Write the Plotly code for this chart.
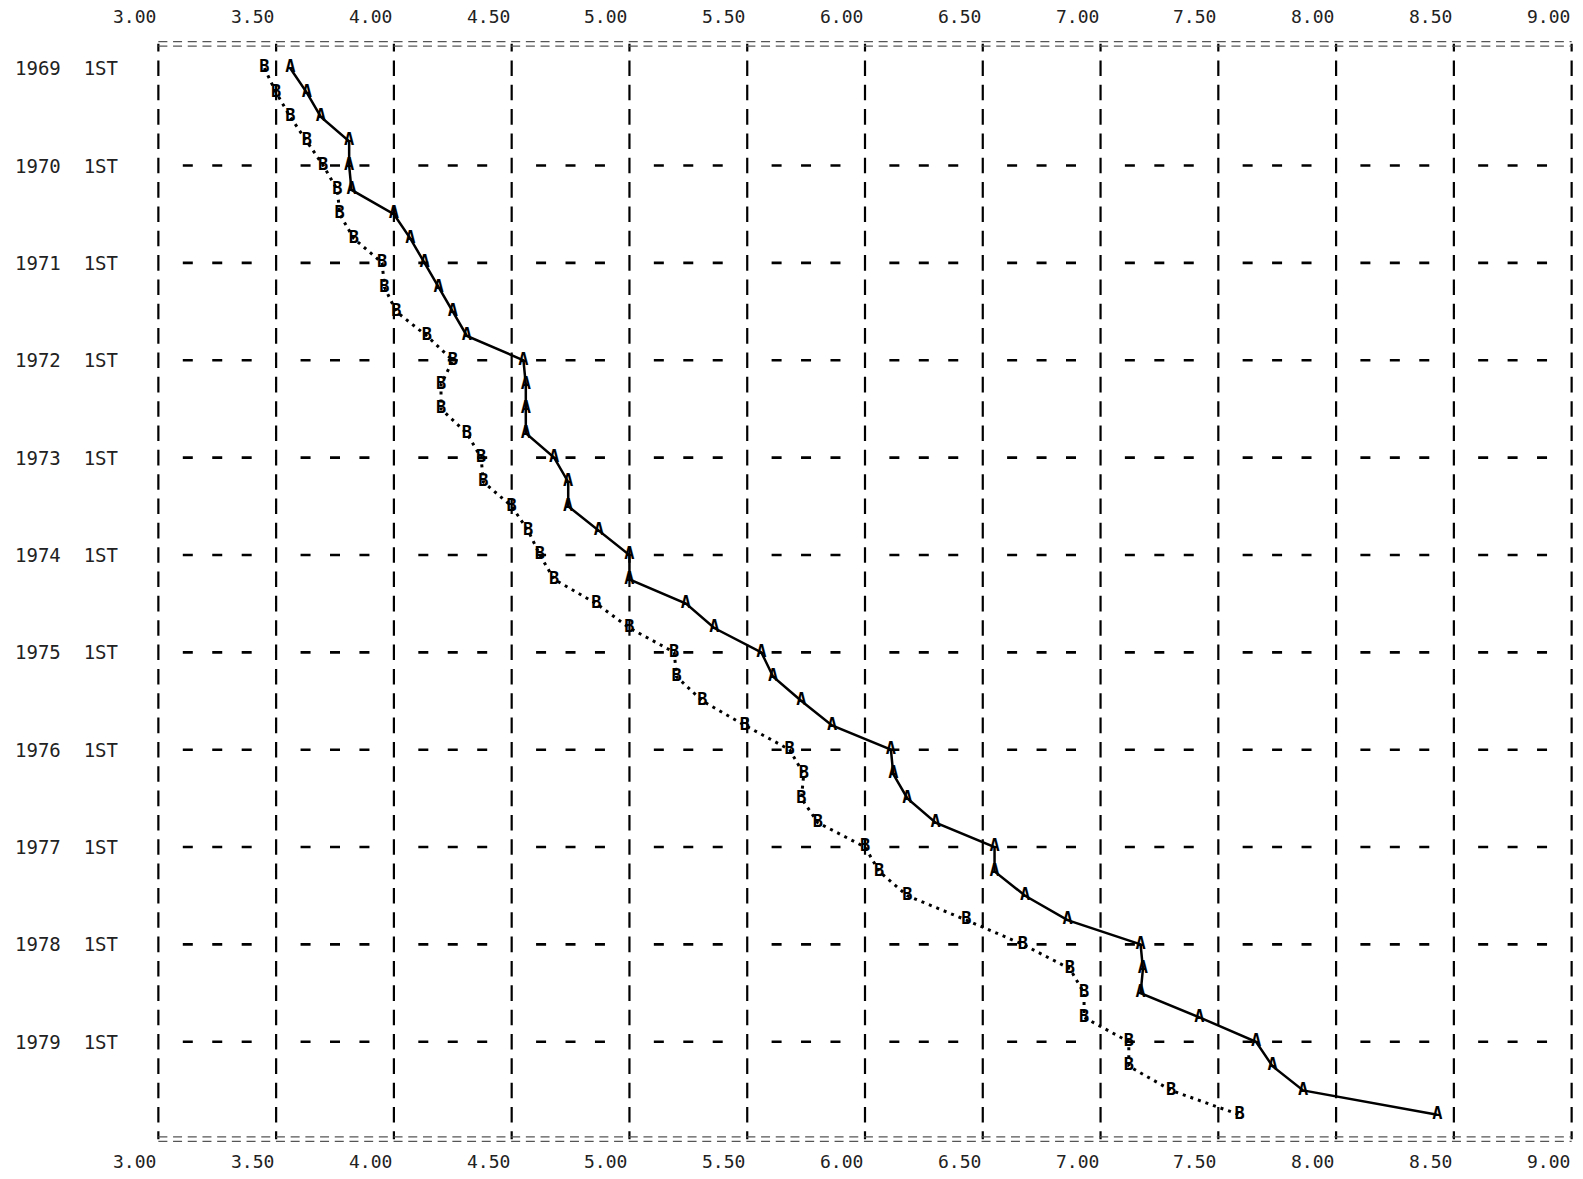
import plotly.graph_objects as go

# ---------------- data ----------------
years = list(range(1969, 1980))
quarters = [1, 2, 3, 4]

a_values = [
    3.56, 3.63, 3.69, 3.81,   # 1969
    3.81, 3.82, 4.00, 4.07,   # 1970
    4.13, 4.19, 4.25, 4.31,   # 1971
    4.55, 4.56, 4.56, 4.56,   # 1972
    4.68, 4.74, 4.74, 4.87,   # 1973
    5.00, 5.00, 5.24, 5.36,   # 1974
    5.56, 5.61, 5.73, 5.86,   # 1975
    6.11, 6.12, 6.18, 6.30,   # 1976
    6.55, 6.55, 6.68, 6.86,   # 1977
    7.17, 7.18, 7.17, 7.42,   # 1978
    7.66, 7.73, 7.86, 8.43,   # 1979
]

b_values = [
    3.45, 3.50, 3.56, 3.63,   # 1969
    3.70, 3.76, 3.77, 3.83,   # 1970
    3.95, 3.96, 4.01, 4.14,   # 1971
    4.25, 4.20, 4.20, 4.31,   # 1972
    4.37, 4.38, 4.50, 4.57,   # 1973
    4.62, 4.68, 4.86, 5.00,   # 1974
    5.19, 5.20, 5.31, 5.49,   # 1975
    5.68, 5.74, 5.73, 5.80,   # 1976
    6.00, 6.06, 6.18, 6.43,   # 1977
    6.67, 6.87, 6.93, 6.93,   # 1978
    7.12, 7.12, 7.30, 7.59,   # 1979
]

x_ticks = [3.00, 3.50, 4.00, 4.50, 5.00, 5.50, 6.00, 6.50, 7.00, 7.50, 8.00, 8.50, 9.00]
x_tick_labels = ["3.00", "3.50", "4.00", "4.50", "5.00", "5.50", "6.00",
                 "6.50", "7.00", "7.50", "8.00", "8.50", "9.00"]
y_tick_labels = ["1969  1ST", "1970  1ST", "1971  1ST", "1972  1ST", "1973  1ST",
                 "1974  1ST", "1975  1ST", "1976  1ST", "1977  1ST", "1978  1ST",
                 "1979  1ST"]

# time index (one point per quarter)
t = [y + (q - 1) / 4 for y in years for q in quarters]

# ---------------- layout constants ----------------
W, H = 1583, 1179
ML, MR, MT, MB = 156, 9, 39, 35
X_RANGE = [2.99, 9.01]
Y_TOP, Y_BOT = 1968.70, 1980.05
FRAME_TOP, FRAME_BOT = 1968.75, 1980.0
MONO = "DejaVu Sans Mono"

plot_w = W - ML - MR
plot_h = H - MT - MB
px_per_x = plot_w / (X_RANGE[1] - X_RANGE[0])
px_per_y = plot_h / (Y_BOT - Y_TOP)
quarter_cell = 0.125 * px_per_x
row_px = 0.25 * px_per_y

fig = go.Figure()

fig.add_trace(go.Scatter(
    x=b_values, y=t, mode="lines+text", text=["B"] * len(b_values),
    textposition="middle center",
    textfont=dict(family=MONO, size=17, color="black", weight="bold"),
    line=dict(color="black", width=3, dash="3px,5px"),
    showlegend=False, hoverinfo="skip",
))
fig.add_trace(go.Scatter(
    x=a_values, y=t, mode="lines+text", text=["A"] * len(a_values),
    textposition="middle center",
    textfont=dict(family=MONO, size=17, color="black", weight="bold"),
    line=dict(color="black", width=2.5),
    showlegend=False, hoverinfo="skip",
))

shapes = []
# vertical dashed lines ("|" on every printed row)
vdash = f"{row_px*0.32:.2f}px,{row_px*0.36:.2f}px,{row_px*0.32:.2f}px,0px"
for v in x_ticks:
    shapes.append(dict(type="line", xref="x", yref="y", x0=v, x1=v,
                       y0=FRAME_BOT, y1=FRAME_TOP,
                       line=dict(color="black", width=2.2, dash=vdash)))
# horizontal dashed rows at each year: three dashes per cell ("|  -  -  -  |")
hd = 10
g_end = quarter_cell - hd / 2
g_mid = quarter_cell - hd
hdash = (f"0px,{g_end:.2f}px,{hd}px,{g_mid:.2f}px,{hd}px,{g_mid:.2f}px,"
         f"{hd}px,{g_end:.2f}px")
for yr in years[1:]:
    shapes.append(dict(type="line", xref="x", yref="y", x0=3.0, x1=9.0,
                       y0=yr, y1=yr,
                       line=dict(color="black", width=2.6, dash=hdash)))
# top / bottom frame made of "=" characters
off = 2.2 / px_per_y
for yb in (FRAME_TOP, FRAME_BOT):
    for d in (-off, off):
        shapes.append(dict(type="line", xref="x", yref="y", x0=3.0, x1=9.0,
                           y0=yb + d, y1=yb + d,
                           line=dict(color="#555555", width=1.3, dash="9px,5.7px")))

annotations = []
for v, lab in zip(x_ticks, x_tick_labels):
    annotations.append(dict(x=v, xref="x", y=1, yref="paper", yshift=23,
                            text=lab, showarrow=False, xanchor="right", yanchor="middle",
                            font=dict(family=MONO, size=18, color="#222222")))
    annotations.append(dict(x=v, xref="x", y=0, yref="paper", yshift=-17,
                            text=lab, showarrow=False, xanchor="right", yanchor="middle",
                            font=dict(family=MONO, size=18, color="#222222")))
for yr, lab in zip(years, y_tick_labels):
    annotations.append(dict(x=(13 - ML) / plot_w, xref="paper", y=yr, yref="y",
                            text=lab.replace(" ", "&nbsp;"), showarrow=False,
                            xanchor="left", yanchor="middle",
                            font=dict(family=MONO, size=19, color="#222222")))

fig.update_layout(
    width=W, height=H,
    margin=dict(l=ML, r=MR, t=MT, b=MB, pad=0),
    paper_bgcolor="white", plot_bgcolor="white",
    xaxis=dict(range=X_RANGE, showgrid=False, zeroline=False, showline=False,
               showticklabels=False, ticks=""),
    yaxis=dict(range=[Y_BOT, Y_TOP], showgrid=False, zeroline=False, showline=False,
               showticklabels=False, ticks=""),
    shapes=shapes,
    annotations=annotations,
)

fig.write_html("out.html", config={"displayModeBar": False},
               post_script="document.body.style.margin='0';document.body.style.overflow='hidden';")
